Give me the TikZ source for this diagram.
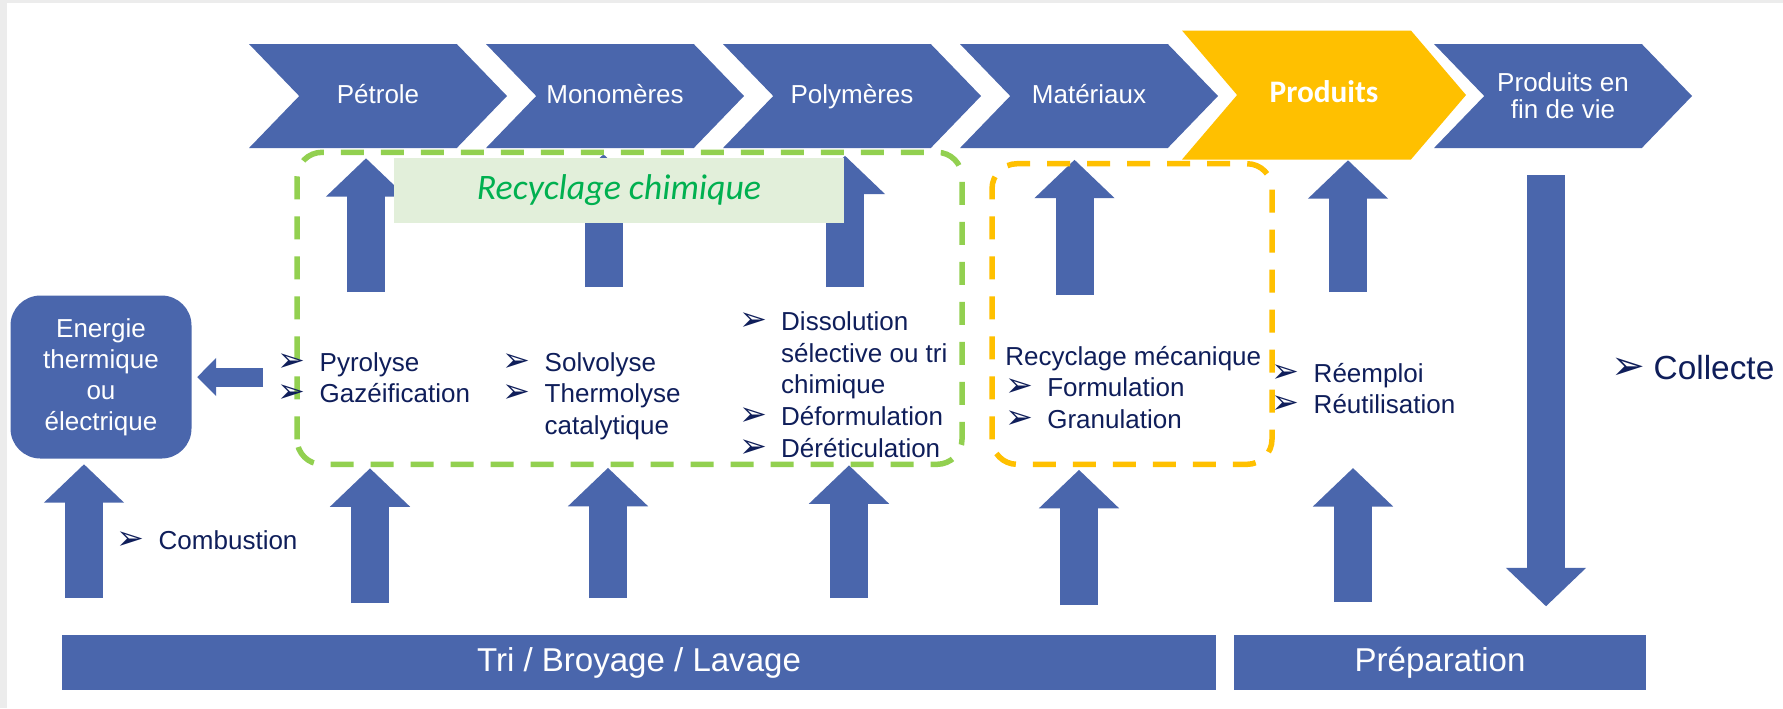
\documentclass[tikz,border=0pt]{standalone}
\usepackage{fontspec}
\setmainfont{Liberation Sans}
\newfontfamily\calibri{Carlito}
\newfontfamily\dejavu{DejaVu Sans}
\usetikzlibrary{arrows.meta,shapes.symbols}
\definecolor{bleu}{HTML}{4A66AC}
\definecolor{jaune}{HTML}{FFC000}
\definecolor{vert}{HTML}{92D050}
\definecolor{vertfonce}{HTML}{00B050}
\definecolor{vertpale}{HTML}{E2EFDA}
\definecolor{encre}{HTML}{0F1E5A}
\newcommand{\puce}[1][9.5]{\makebox[4.2mm][l]{\dejavu\fontsize{#1}{#1}\selectfont ➢}}

\begin{document}
\begin{tikzpicture}[x=0.1mm, y=-0.1mm,
  chevron/.style={signal, signal from=west, signal to=east, signal pointer angle=92,
                  fill=bleu, minimum width=25.8mm, minimum height=10.4mm, inner sep=0pt,
                  text height=1.9mm, text depth=0.5mm,
                  text=white, align=center, font=\fontsize{7.4}{7.6}\selectfont},
  monte/.style={line width=3.8mm, draw=bleu, -{Triangle[length=3.85mm, width=7.8mm]}},
  gauche/.style={line width=1.9mm, draw=bleu, -{Triangle[length=1.9mm, width=3.7mm]}},
  cadre/.style={line width=0.55mm, dash pattern=on 2.3mm off 1.7mm, rounded corners=2.5mm,
                inner sep=0pt, outer sep=0pt},
  barre/.style={fill=bleu, minimum height=5.5mm, inner sep=0pt, text=white,
                font=\fontsize{9.4}{11}\selectfont},
  liste/.style={anchor=base west, inner sep=0pt, text=encre, font=\fontsize{7.4}{9}\selectfont},
]
\fill[white] (0,0) rectangle (1783,708);
\useasboundingbox (0,0) rectangle (1783,708);
\fill[gray!15] (0,0) rectangle (1783,3);
\fill[gray!15] (0,0) rectangle (7,708);

\node[chevron] (petrole) at (378,96) {Pétrole};
\node[chevron] (monomeres) at (615,96) {Monomères};
\node[chevron] (polymeres) at (852,96) {Polymères};
\node[chevron] (materiaux) at (1089,96) {Matériaux};
\node[chevron, fill=jaune, signal pointer angle=99, minimum width=28.4mm, minimum height=12.9mm,
      font=\calibri\bfseries\fontsize{8.9}{10}\selectfont] (produits) at (1324,95) {Produits};
\node[chevron, text height=, text depth=] (finvie) at (1563,96) {Produits en\\fin de vie};

\node[fill=bleu, rounded corners=3mm, minimum width=18.1mm, minimum height=16.3mm, inner sep=0pt,
      text=white, align=center, font=\fontsize{7.4}{8.85}\selectfont] (energie) at (101,377)
  {Energie\\thermique\\ou\\électrique};

\node[barre, minimum width=115.4mm] (tri) at (639,662.5) {Tri / Broyage / Lavage};
\node[barre, minimum width=41.2mm] (preparation) at (1440,662.5) {Préparation};

\node[cadre, minimum width=66.5mm, minimum height=31.2mm] (chimique) at (629.5,308.3) {};
\node[cadre, minimum width=28mm, minimum height=30.06mm] (mecanique) at (1132,314) {};

\coordinate (h1) at (366,292);
\coordinate (h2) at (603.5,287);
\coordinate (h3) at (845,287);
\coordinate (h4) at (1074.5,295);
\coordinate (h5) at (1348,292);
\coordinate (b0) at (84,598);
\coordinate (b1) at (370,603);
\coordinate (b2) at (608,598);
\coordinate (b3) at (849,598);
\coordinate (b4) at (1079,605);
\coordinate (b5) at (1353,602);
\coordinate (c5) at (1353,468);
\coordinate (d) at (1546,175);

\draw[monte, shorten >=0.95mm] (h1) -- (h1 |- petrole.south);
\draw[monte, shorten >=0.55mm] (h2) -- (h2 |- monomeres.south);
\draw[monte, shorten >=0.7mm] (h3) -- (h3 |- polymeres.south);
\draw[monte, shorten >=1.1mm] (h4) -- (h4 |- materiaux.south);
\draw[monte] (h5) -- (h5 |- produits.south);
\draw[monte, shorten >=0.5mm] (b0) -- (b0 |- energie.south);
\draw[monte, shorten >=0.4mm] (b1) -- (b1 |- chimique.south);
\draw[monte, shorten >=0.35mm] (b2) -- (b2 |- chimique.south);
\draw[monte, shorten >=0.1mm] (b3) -- (b3 |- chimique.south);
\draw[monte, shorten >=0.55mm] (b4) -- (b4 |- mecanique.south);
\draw[monte] (b5) -- (c5);
\draw[monte, shorten >=2.8mm] (d) -- (d |- preparation.north);
\draw[gauche, shorten <=3.4mm, shorten >=0.5mm] (energie.east -| chimique.west) -- (energie.east);

\node[fill=vertpale, minimum width=45mm, minimum height=6.44mm, inner sep=0pt, text=vertfonce,
      font=\calibri\itshape\fontsize{10.2}{12}\selectfont] (etiquette) at (619,190.5) {Recyclage chimique};

\draw[cadre, draw=vert] (chimique.south west) rectangle (chimique.north east);
\draw[cadre, draw=jaune] (mecanique.south west) rectangle (mecanique.north east);

\node[liste] (pyrolyse) at (277,371) {\begin{tabular}[t]{@{}l@{}l@{}}
  \puce & Pyrolyse\\ \puce & Gazéification\end{tabular}};
\node[liste] (solvolyse) at (502,371) {\begin{tabular}[t]{@{}l@{}l@{}}
  \puce & Solvolyse\\ \puce & Thermolyse\\ & catalytique\end{tabular}};
\node[liste] (dissolution) at (738.5,330.7) {\begin{tabular}[t]{@{}l@{}l@{}}
  \puce & Dissolution\\ & sélective ou tri\\ & chimique\\ \puce & Déformulation\\
  \puce & Déréticulation\end{tabular}};
\node[liste] (formulation) at (1004.6,365) {\begin{tabular}[t]{@{}l@{}l@{}}
  \multicolumn{2}{@{}l@{}}{Recyclage mécanique}\\ \puce & Formulation\\ \puce & Granulation\end{tabular}};
\node[liste] (reemploi) at (1271,382.3) {\begin{tabular}[t]{@{}l@{}l@{}}
  \puce & Réemploi\\ \puce & Réutilisation\end{tabular}};
\node[liste, font=\fontsize{9.5}{11}\selectfont] (collecte) at (1611,379) {\puce[11.5]Collecte};
\node[liste] (combustion) at (116,549) {\puce Combustion};

\end{tikzpicture}
\end{document}
